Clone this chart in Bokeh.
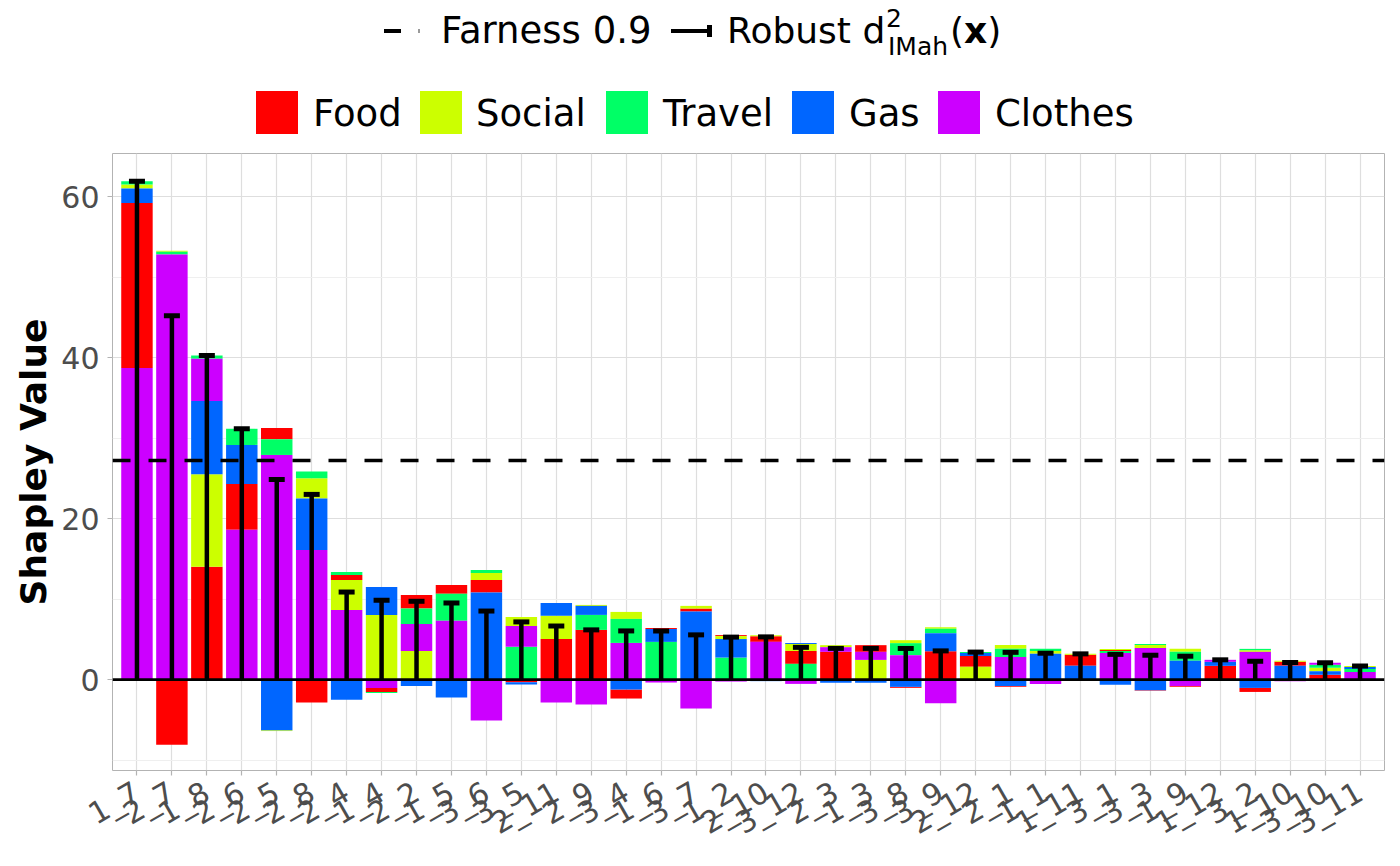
import math

from bokeh.plotting import figure
from bokeh.layouts import column
from bokeh.models import (FactorRange, Range1d, Span, Div, FixedTicker, ColumnDataSource)
from bokeh.embed import file_html
from bokeh.resources import INLINE

# observations (x axis), in the order shown
observations = ["1_7", "2_7", "1_8", "2_6", "2_5", "2_8", "2_4", "1_4", "2_2", "1_5",
                "3_6", "3_5", "2_11", "2_9", "3_4", "1_6", "3_7", "1_2", "2_10", "3_12",
                "2_3", "1_3", "3_8", "3_9", "2_12", "2_1", "1_1", "1_11", "3_1", "3_3",
                "1_9", "1_12", "3_2", "1_10", "3_10", "3_11"]

# shapley values per feature
food = [20.5, -8.1, 14.0, 5.7, 1.4, -2.85, 0.62, -0.5, 1.7, 1.1,
        1.57, -0.33, 5.05, 6.17, -1.12, 0.12, 0.37, 0.12, 0.7, 1.6,
        3.44, 0.83, -0.12, 3.52, 1.32, -0.12, 0.0, 1.37, 0.12, -0.08,
        -0.12, 1.7, -0.5, 0.5, 0.58, 0.0]
social = [0.5, 0.15, 11.5, 0.0, -0.1, 2.5, 3.73, 8.03, 3.56, 0.0,
          0.87, 1.12, 2.86, 0.12, 0.87, 0.0, 0.33, 0.37, 0.12, 0.87,
          0.25, 2.44, 0.37, 0.2, 1.6, 0.45, 0.37, 0.12, 0.11, 0.37,
          0.37, 0.0, 0.2, 0.12, 0.42, 0.12]
travel = [0.4, 0.33, 0.4, 2.0, 1.95, 0.85, 0.37, -0.12, 1.9, 3.35,
          0.37, 4.06, 0.0, 1.86, 2.98, 4.68, 0.0, 2.73, 0.0, 1.95,
          0.0, 0.0, 1.5, 0.54, 0.12, 1.04, 0.25, 0.0, 0.25, 0.12,
          1.12, 0.0, 0.17, 0.0, 0.40, 0.37]
gas = [1.8, 0.0, 9.1, 4.85, -6.3, 6.4, -2.5, 3.48, -0.79, -2.24,
       10.8, -0.29, 1.6, 1.12, -1.24, 1.6, 8.45, 2.3, -0.2, 0.12,
       -0.4, -0.4, -0.91, 2.24, 0.37, -0.79, 3.19, 1.7, -0.66, -1.32,
       2.32, 0.5, -1.04, 1.7, 0.45, 0.25]
clothes = [38.7, 52.8, 5.25, 18.6, 27.9, 16.1, 8.65, -1.04, 3.35, 7.3,
           -5.1, 2.6, -2.86, -3.1, 4.55, -0.37, -3.6, -0.25, 4.68, -0.54,
           0.58, 1.0, 3.02, -2.94, 0.0, 2.8, -0.54, 0.0, 3.31, 3.93,
           -0.79, 0.25, 3.44, -0.2, 0.25, 0.95]

features = ["Food", "Social", "Travel", "Gas", "Clothes"]
colors = ["#FF0000", "#CCFF00", "#00FF66", "#0066FF", "#CC00FF"]
farness = 27.2

shap = [food, social, travel, gas, clothes]
n = len(observations)

# stack each bar: largest contribution next to zero, positives up, negatives down
bottoms = [[0.0] * n for _ in features]
tops = [[0.0] * n for _ in features]
for j in range(n):
    vals = [s[j] for s in shap]
    acc = 0.0
    for k in sorted([k for k in range(5) if vals[k] > 0], key=lambda k: -vals[k]):
        bottoms[k][j] = acc
        acc += vals[k]
        tops[k][j] = acc
    acc = 0.0
    for k in sorted([k for k in range(5) if vals[k] < 0], key=lambda k: vals[k]):
        tops[k][j] = acc
        acc += vals[k]
        bottoms[k][j] = acc
total = [sum(s[j] for s in shap) for j in range(n)]

FONT = "DejaVu Sans"

# ---- main plot ----
p = figure(
    frame_width=1272,
    frame_height=617,
    x_range=FactorRange(factors=observations, range_padding=0.2, range_padding_units="absolute"),
    y_range=Range1d(-11.3, 65.35),
    min_border_left=112,
    min_border_right=16,
    min_border_top=13,
    min_border_bottom=80,
    output_backend="svg",
    toolbar_location=None,
    margin=0,
)
p.background_fill_color = "white"
p.border_fill_color = "white"
p.outline_line_color = "#B3B3B3"
p.outline_line_width = 1

# grids
p.xgrid.grid_line_color = "#DEDEDE"
p.xgrid.grid_line_width = 1.2
p.ygrid.grid_line_color = "#DEDEDE"
p.ygrid.grid_line_width = 1.2
p.ygrid.minor_grid_line_color = "#EFEFEF"
p.ygrid.minor_grid_line_width = 1

p.yaxis.ticker = FixedTicker(ticks=[0, 20, 40, 60], minor_ticks=[-10, 10, 30, 50])

# bars
for k, name in enumerate(features):
    src = ColumnDataSource(dict(x=observations, bottom=bottoms[k], top=tops[k]))
    p.vbar(x="x", bottom="bottom", top="top", width=0.9, source=src,
           fill_color=colors[k], line_color=None)

# robust distance: error bar from 0
eb = ColumnDataSource(dict(x=observations, y0=[0.0] * n, y1=total))
p.segment(x0="x", y0="y0", x1="x", y1="y1", source=eb, line_color="black", line_width=4.5)
p.rect(x="x", y="y1", width=16, height=5, width_units="screen", height_units="screen",
       source=eb, fill_color="black", line_color=None)

p.add_layout(Span(location=0, dimension="width", line_color="black", line_width=2.7))
p.add_layout(Span(location=farness, dimension="width", line_color="black",
                  line_width=3.5, line_dash="18 18"))

# axes
for ax in (p.xaxis[0], p.yaxis[0]):
    ax.axis_line_color = None
    ax.major_tick_line_color = "#B3B3B3"
    ax.major_tick_line_width = 1.2
    ax.major_tick_out = 5
    ax.major_tick_in = 0
    ax.minor_tick_line_color = None
    ax.major_label_text_color = "#4D4D4D"
    ax.major_label_text_font = FONT

p.yaxis.major_label_text_font_size = "30px"
p.yaxis.major_label_standoff = 8
p.yaxis.axis_label = "Shapley Value"
p.yaxis.axis_label_text_font = FONT
p.yaxis.axis_label_text_font_size = "36px"
p.yaxis.axis_label_text_font_style = "bold"
p.yaxis.axis_label_text_color = "black"
p.yaxis.axis_label_standoff = 4

p.xaxis.major_label_text_font_size = "30px"
p.xaxis.major_label_orientation = math.pi / 6
p.xaxis.major_label_standoff = 14

# ---- legends above the plot ----
def key(left, top, w, h, color="black"):
    return (f'<span style="position:absolute;left:{left}px;top:{top}px;width:{w}px;'
            f'height:{h}px;background:{color}"></span>')


def txt(left, top, html, size=36):
    return (f'<span style="position:absolute;left:{left}px;top:{top}px;font-size:{size}px;'
            f'line-height:1;white-space:nowrap">{html}</span>')


parts = [
    # dashed threshold and error bar
    key(384, 29, 17, 4),
    key(418, 29, 2, 4, "#9A9A9A"),
    txt(441, 11.7, "Farness 0.9", 37),
    key(671, 29, 41, 4),
    key(707, 25, 5, 12),
    txt(727, 12.5, "Robust d"),
    txt(886, 6, "2", 25),
    txt(888, 34, "IMah", 25),
    txt(950, 12.5, "(<b>x</b>)"),
]
# fill keys
key_left = [256, 420, 606, 792, 938]
text_left = [313, 476, 663, 849, 995]
for name, c, kl, tl in zip(features, colors, key_left, text_left):
    parts.append(key(kl, 91, 42, 43, c))
    parts.append(txt(tl, 94.7, name, 37))

top_div = Div(
    text=(f'<div style="position:relative;width:1400px;height:140px;'
          f'font-family:\'{FONT}\';color:black">{"".join(parts)}</div>'),
    width=1400,
    height=140,
    margin=0,
)

layout = column(top_div, p, spacing=0)
open("out.html", "w").write(file_html(layout, INLINE))
